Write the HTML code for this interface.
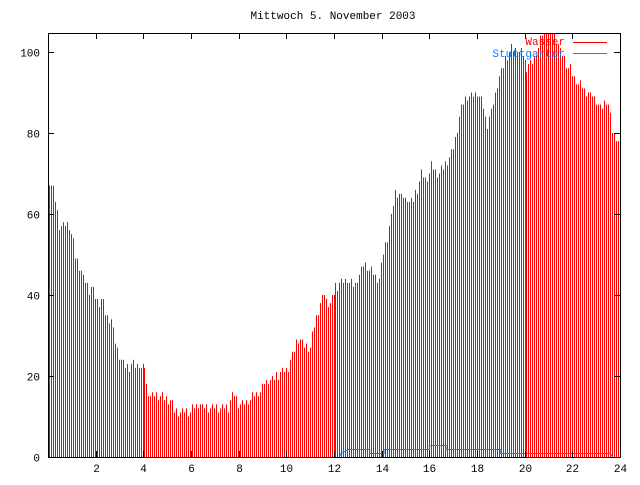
<!DOCTYPE html>
<html><head><meta charset="utf-8"><style>
html,body{margin:0;padding:0;background:#fff;}
svg text{font-family:"Liberation Mono","DejaVu Sans Mono",monospace;font-size:11px;}
</style></head><body>
<svg id="c" width="640" height="480" xmlns="http://www.w3.org/2000/svg">
<rect width="640" height="480" fill="#fff"/>
<g id="bars"></g>
<polyline id="blue" fill="none" stroke="#0080ff" stroke-width="1"/>
<rect x="48.5" y="33.5" width="572" height="424" fill="none" stroke="#000"/>
<g id="ticks" stroke="#000"></g>
<g id="labels"></g>
<text x="333" y="19" text-anchor="middle">Mittwoch 5. November 2003</text>
<text x="565" y="45" text-anchor="end" fill="#ff0000">Wasser</text>
<line x1="573" y1="42.5" x2="607" y2="42.5" stroke="#ff0000"/>
<text x="565" y="57" text-anchor="end" fill="#0080ff">Stuttgarter</text>
<line x1="573" y1="53.5" x2="607" y2="53.5" stroke="#0080ff"/>
</svg>
<script>
var NS="http://www.w3.org/2000/svg";
function X(h){return 48+h*572/24;}
function Y(v){return 457-v*4.05;}
var pts=[[0,68],[0.1,67],[0.2,66],[0.4,57],[0.8,58],[1.0,53],[1.1,49],[1.3,46],[1.5,43],[1.7,41],[1.8,42],[2.0,38],[2.2,39],[2.4,34],[2.6,34],[2.7,30],[2.9,25],[3.0,24],[3.2,22],[3.5,23],[4.0,22],[4.1,17],[4.3,15],[4.8,15],[5.1,14],[5.3,11],[5.9,11],[6.2,13],[6.5,12],[7.0,12],[7.5,12],[7.7,16],[7.9,13],[8.2,13],[8.5,15],[8.8,16],[9,18],[9.3,19],[9.5,20],[9.8,21],[10,22],[10.3,28],[10.5,29],[10.7,27],[10.9,27],[11.1,33],[11.3,37],[11.5,40],[11.7,37],[11.9,40],[12,42],[12.2,43],[12.5,44],[12.8,42],[13.0,45],[13.2,48],[13.4,46],[13.6,45],[13.8,43],[14.0,50],[14.3,58],[14.5,65],[14.9,64],[15.2,63],[15.4,66],[15.6,70],[15.8,68],[16.0,72],[16.3,70],[16.6,73],[16.8,74],[17,78],[17.2,85],[17.4,88],[17.6,89],[17.9,90],[18.1,88],[18.3,82],[18.5,85],[18.8,93],[19.1,99],[19.4,101],[19.8,100],[20,96],[20.3,98],[20.6,103],[20.8,108],[21.1,106],[21.5,99],[21.9,95],[22.2,92],[22.5,90],[22.8,89],[23.1,86],[23.4,88],[23.6,80],[23.8,79],[24,75]];
function interp(h){for(var i=1;i<pts.length;i++){if(h<=pts[i][0]){var a=pts[i-1],b=pts[i];return a[1]+(b[1]-a[1])*(h-a[0])/(b[0]-a[0]);}}return 75;}
var g=document.getElementById("bars"),s="";
for(var i=0;i<288;i++){var h=i/12;var v=Math.round(interp(h)+((i*37)%5-2)*0.5);var y=Math.max(33,Y(v));var x=49+2*i-Math.round(i/96)+0.5;
s+='<line x1="'+x+'" y1="457" x2="'+x+'" y2="'+y+'" stroke="#ff0000" stroke-width="1"/>';}
g.innerHTML=s;
var bl=[[0,0],[12.2,0],[12.3,1],[12.6,2],[13.5,2],[13.5,1],[14.1,1],[14.1,2],[16,2],[16,3],[16.7,3],[16.7,2],[19,2],[19,1],[23.6,1],[23.7,0],[24,0]];
document.getElementById("blue").setAttribute("points",bl.map(function(p){return X(p[0])+","+(Math.round(Y(p[1]))+0.5);}).join(" "));
var t="",l="";
for(var v=0;v<=100;v+=20){var y=Math.round(Y(v))+0.5;t+='<line x1="48" y1="'+y+'" x2="54" y2="'+y+'"/><line x1="614" y1="'+y+'" x2="620" y2="'+y+'"/>';l+='<text x="40" y="'+(y+4)+'" text-anchor="end">'+v+'</text>';}
for(var h=2;h<=24;h+=2){var x=Math.round(X(h))+0.5;t+='<line x1="'+x+'" y1="457" x2="'+x+'" y2="451"/><line x1="'+x+'" y1="33" x2="'+x+'" y2="39"/>';l+='<text x="'+x+'" y="472" text-anchor="middle">'+h+'</text>';}
document.getElementById("ticks").innerHTML=t;document.getElementById("labels").innerHTML=l;
</script>
</body></html>
